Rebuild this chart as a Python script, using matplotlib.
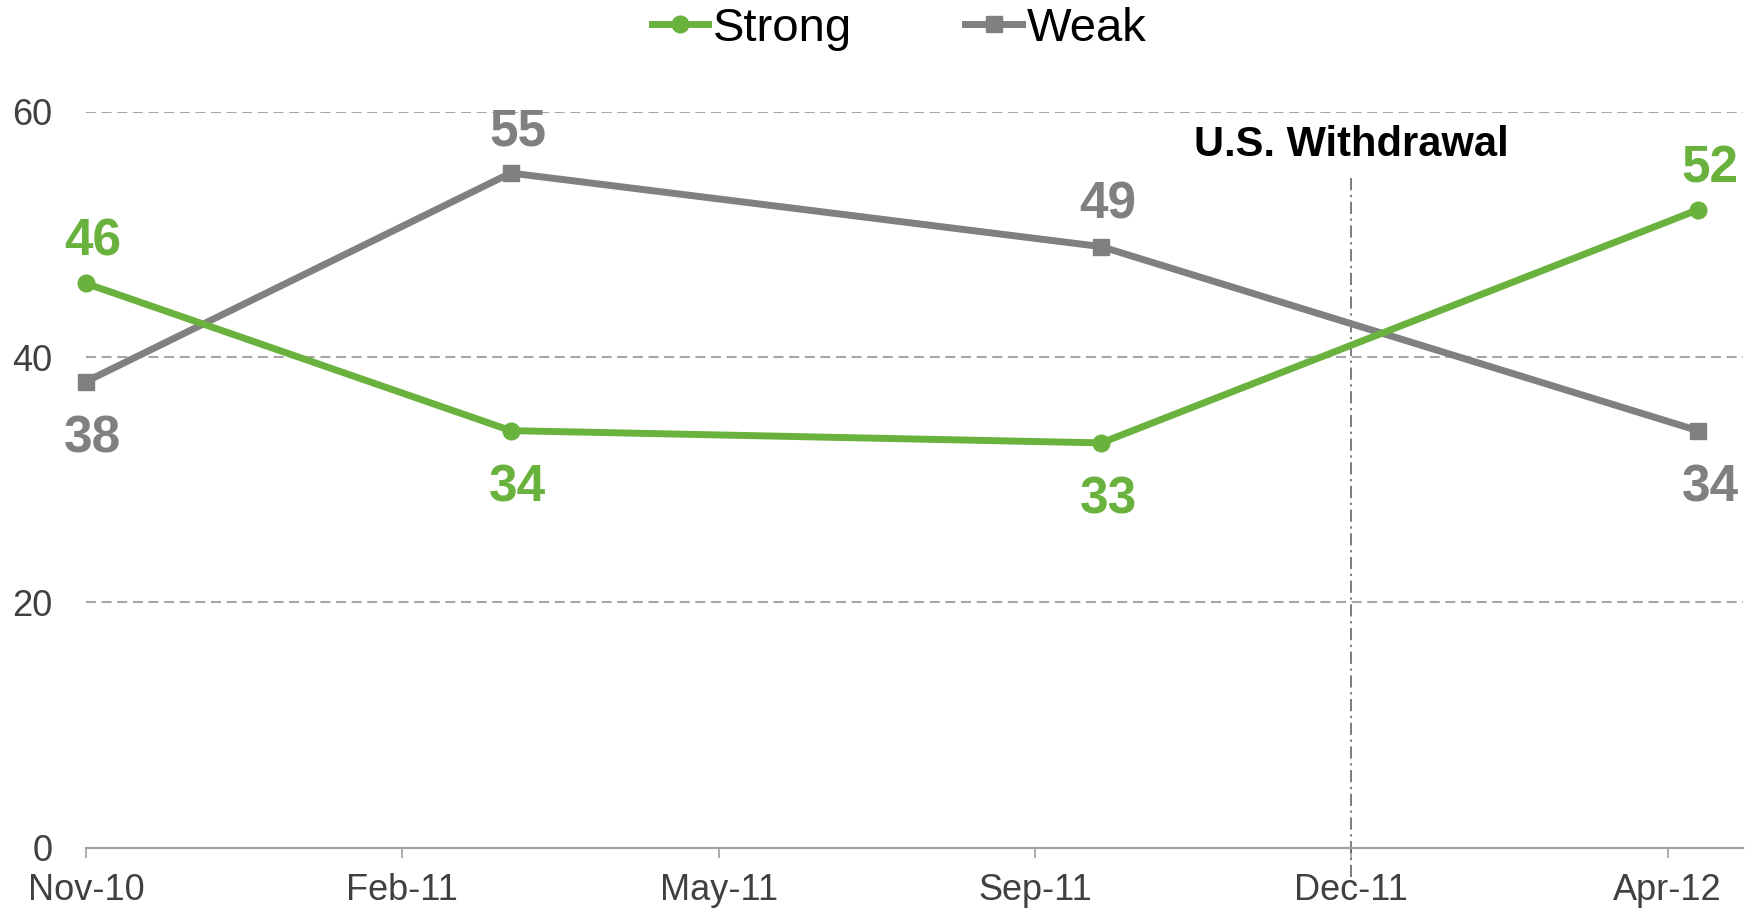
import matplotlib
matplotlib.use("Agg")
import matplotlib.pyplot as plt
import matplotlib.dates as mdates
from datetime import date

plt.rcParams['font.family'] = ['Liberation Sans', 'DejaVu Sans']

# survey dates and values
survey_dates = [date(2010, 11, 1), date(2011, 3, 22), date(2011, 10, 4), date(2012, 4, 19)]
strong = [46, 34, 33, 52]
weak = [38, 55, 49, 34]

tick_dates = [date(2010, 11, 1), date(2011, 2, 14), date(2011, 5, 30),
              date(2011, 9, 12), date(2011, 12, 26), date(2012, 4, 9)]
tick_labels = ["Nov-10", "Feb-11", "May-11", "Sep-11", "Dec-11", "Apr-12"]
y_ticks = [0, 20, 40, 60]

withdrawal_date = date(2011, 12, 26)
withdrawal_label = "U.S. Withdrawal"

GREEN = "#6AB23E"
GRAY = "#808080"
TEXT = "#404040"

fig = plt.figure(figsize=(17.62, 9.10), dpi=100)
ax = fig.add_axes([86 / 1762, 1 - 847.7 / 910, (1743 - 86) / 1762, (847.7 - 111.7) / 910])

x = mdates.date2num(survey_dates)
ax.plot(x, strong, color=GREEN, lw=5, marker='o', ms=12, label="Strong",
        zorder=4, clip_on=False)
ax.plot(x, weak, color=GRAY, lw=5, marker='s', ms=11, label="Weak",
        zorder=3, clip_on=False)

ax.set_xlim(mdates.date2num(date(2010, 11, 1)), mdates.date2num(date(2012, 5, 4)))
ax.set_ylim(0, 60)

# data labels: above the point if this series is higher
for vals, other, col in [(strong, weak, GREEN), (weak, strong, GRAY)]:
    for i, (xi, v, o) in enumerate(zip(x, vals, other)):
        dy = 20 if v > o else -51
        dx = 9 if i == len(vals) - 1 else 5
        ax.annotate(str(v), (xi, v), xytext=(dx, dy), textcoords='offset points',
                    ha='center', va='baseline', fontsize=37, fontweight='bold',
                    color=col, zorder=5, annotation_clip=False)

# gridlines
for yv in y_ticks[1:]:
    ax.axhline(yv, color="#A6A6A6", lw=1.5, ls=(0, (4.8, 2.7)), zorder=1)

# withdrawal marker
wx = mdates.date2num(withdrawal_date)
ax.axvline(wx, ymin=-0.04, ymax=0.915, color="#595959", lw=1.1,
           ls=(0, (8, 3, 1.5, 3)), clip_on=False, zorder=2)
ax.text(wx, 57.3, withdrawal_label, ha='center', va='center', fontsize=30,
        fontweight='bold', color='black')

ax.set_xticks(mdates.date2num(tick_dates))
ax.set_xticklabels(tick_labels)
ax.set_yticks(y_ticks)

for s in ['top', 'right', 'left']:
    ax.spines[s].set_visible(False)
ax.spines['bottom'].set_color("#A0A0A0")
ax.spines['bottom'].set_linewidth(1.6)
ax.tick_params(axis='x', direction='out', length=7.5, width=1.2, color="#A0A0A0",
               labelsize=26, labelcolor=TEXT, pad=11)
ax.tick_params(axis='y', length=0, labelsize=26, labelcolor=TEXT, pad=24)

fig.legend(loc='center', bbox_to_anchor=(899 / 1762, 1 - 29 / 910), ncol=2,
           frameon=False, fontsize=34, handlelength=1.2, handletextpad=0.1,
           columnspacing=2.4)

fig.savefig("out.png", dpi=100)
